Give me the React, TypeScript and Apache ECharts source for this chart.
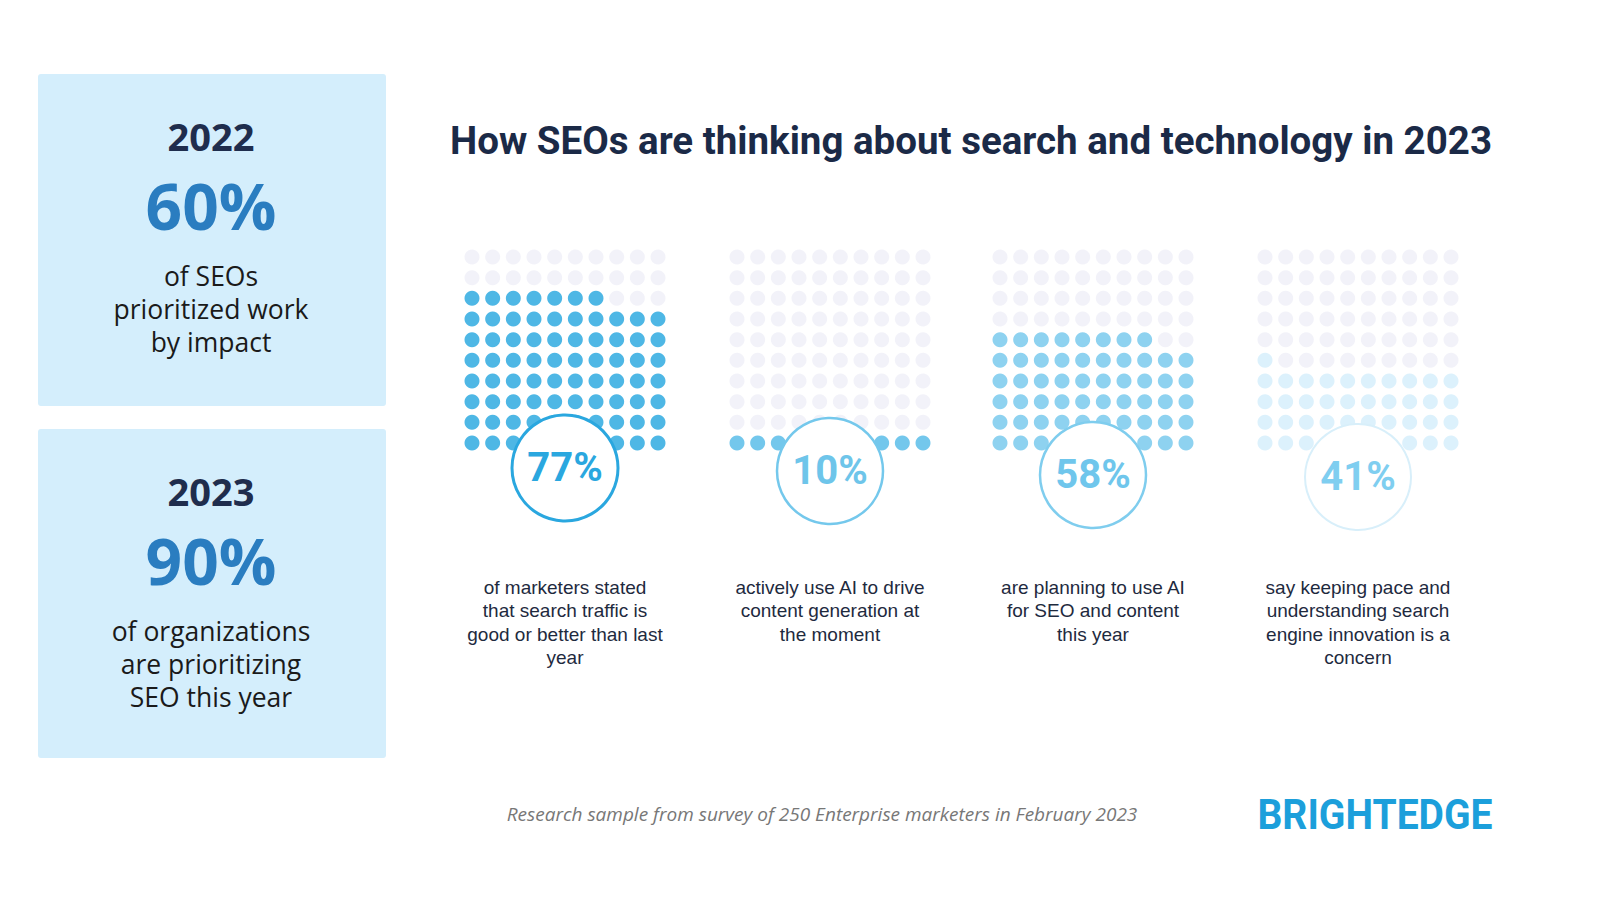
import React, { useEffect, useRef } from 'react';
import * as echarts from 'echarts';

// ---- data ----
const statValues = [77, 10, 58, 41];
const statLabels = ['77%', '10%', '58%', '41%'];
const statDescriptions = [
  'of marketers stated\nthat search traffic is\ngood or better than last\nyear',
  'actively use AI to drive\ncontent generation at\nthe moment',
  'are planning to use AI\nfor SEO and content\nthis year',
  'say keeping pace and\nunderstanding search\nengine innovation is a\nconcern',
];
const panelYears = ['2022', '2023'];
const panelValues = ['60%', '90%'];
const panelTexts = ['of SEOs\nprioritized work\nby impact', 'of organizations\nare prioritizing\nSEO this year'];
const titleText = 'How SEOs are thinking about search and technology in 2023';
const footnoteText = 'Research sample from survey of 250 Enterprise marketers in February 2023';
const brandText = 'BRIGHTEDGE';

// ---- styling / layout ----
const gridLefts = [472, 737, 1000, 1265];
const gridTop = 257;
const gridSize = 186;
const filledColors = ['#22A5DF', '#50B9E7', '#72C7EC', '#D3EEFB'];
const emptyColor = '#EFEFF8';
const ringColors = ['#2AA7DF', '#74C8EC', '#7FCDEE', '#D8EFFA'];
const ringWidths = [3, 2.5, 2.5, 2];
const pctColors = ['#2AA7DF', '#6EC5EA', '#6FC6EC', '#7FCEF0'];
const circleY = [468, 471, 475, 477];

export default function App() {
  const ref = useRef<HTMLDivElement>(null);
  useEffect(() => {
    document.body.style.margin = '0';
    const chart = echarts.init(ref.current!, null, { renderer: 'svg' });

    const grids: any[] = [];
    const xAxes: any[] = [];
    const yAxes: any[] = [];
    const series: any[] = [];
    statValues.forEach((v, k) => {
      grids.push({ left: gridLefts[k], top: gridTop, width: gridSize, height: gridSize });
      xAxes.push({ type: 'value', gridIndex: k, min: 0, max: 9, show: false });
      yAxes.push({ type: 'value', gridIndex: k, min: 0, max: 9, show: false });
      const filled: number[][] = [];
      const empty: number[][] = [];
      for (let i = 0; i < 100; i++) {
        const pt = [i % 10, Math.floor(i / 10)];
        if (i < v) filled.push(pt);
        else empty.push(pt);
      }
      series.push({
        type: 'scatter', xAxisIndex: k, yAxisIndex: k, symbolSize: 15,
        itemStyle: { color: emptyColor }, data: empty, silent: true,
      });
      series.push({
        type: 'scatter', xAxisIndex: k, yAxisIndex: k, symbolSize: 15,
        itemStyle: { color: filledColors[k] }, data: filled, silent: true,
      });
    });

    const graphic: any[] = [];
    // left panels
    const panelTops = [74, 429];
    const panelH = [332, 329];
    panelYears.forEach((y, k) => {
      const top = panelTops[k];
      graphic.push({ type: 'rect', shape: { x: 38, y: top, width: 348, height: panelH[k], r: 3 }, style: { fill: '#D4EEFC' }, z: 1 });
      graphic.push({ type: 'text', x: 211, y: top + 62, z: 5, style: { text: y, font: 'bold 38px "Open Sans", Roboto, sans-serif', fill: '#1F2D4D', align: 'center', verticalAlign: 'middle' } });
      graphic.push({ type: 'text', x: 211, y: top + 131, z: 5, style: { text: panelValues[k], font: 'bold 64px "Open Sans", Roboto, sans-serif', fill: '#2A7DC0', align: 'center', verticalAlign: 'middle' } });
      graphic.push({ type: 'text', x: 211, y: top + 235, z: 5, style: { text: panelTexts[k], font: '26.5px "Open Sans", sans-serif', lineHeight: 33, fill: '#1A1A1A', align: 'center', verticalAlign: 'middle' } });
    });

    // title
    graphic.push({ type: 'text', x: 971, y: 140, z: 5, style: { text: titleText, font: 'bold 38.5px Roboto, sans-serif', fill: '#1B2A47', align: 'center', verticalAlign: 'middle' } });

    // circles, percent labels, descriptions
    statLabels.forEach((lab, k) => {
      const cx = gridLefts[k] + gridSize / 2;
      graphic.push({ type: 'circle', shape: { cx, cy: circleY[k], r: 53 }, style: { fill: '#FFFFFF', stroke: ringColors[k], lineWidth: ringWidths[k] }, z: 10 });
      graphic.push({ type: 'text', x: cx, y: circleY[k] - 1, z: 11, style: { text: lab, font: 'bold 40px Roboto, sans-serif', fill: pctColors[k], align: 'center', verticalAlign: 'middle' } });
      graphic.push({ type: 'text', x: cx, y: 576, z: 5, style: { text: statDescriptions[k], font: '19px "Liberation Sans", Arial, sans-serif', lineHeight: 23.3, fill: '#1E2A3E', align: 'center', verticalAlign: 'top' } });
    });

    // footnote and brand
    graphic.push({ type: 'text', x: 822, y: 814, z: 5, style: { text: footnoteText, font: 'italic 19px "Open Sans", sans-serif', fill: '#777777', align: 'center', verticalAlign: 'middle' } });
    graphic.push({ type: 'text', x: 1375, y: 815, scaleX: 0.93, z: 5, style: { text: brandText, font: 'bold 42px Roboto, sans-serif', fill: '#1C9FDB', align: 'center', verticalAlign: 'middle' } });

    chart.setOption({
      animation: false,
      backgroundColor: '#FFFFFF',
      grid: grids,
      xAxis: xAxes,
      yAxis: yAxes,
      series,
      graphic,
    });
    return () => chart.dispose();
  }, []);
  return <div ref={ref} style={{ width: 1600, height: 900 }} />;
}
